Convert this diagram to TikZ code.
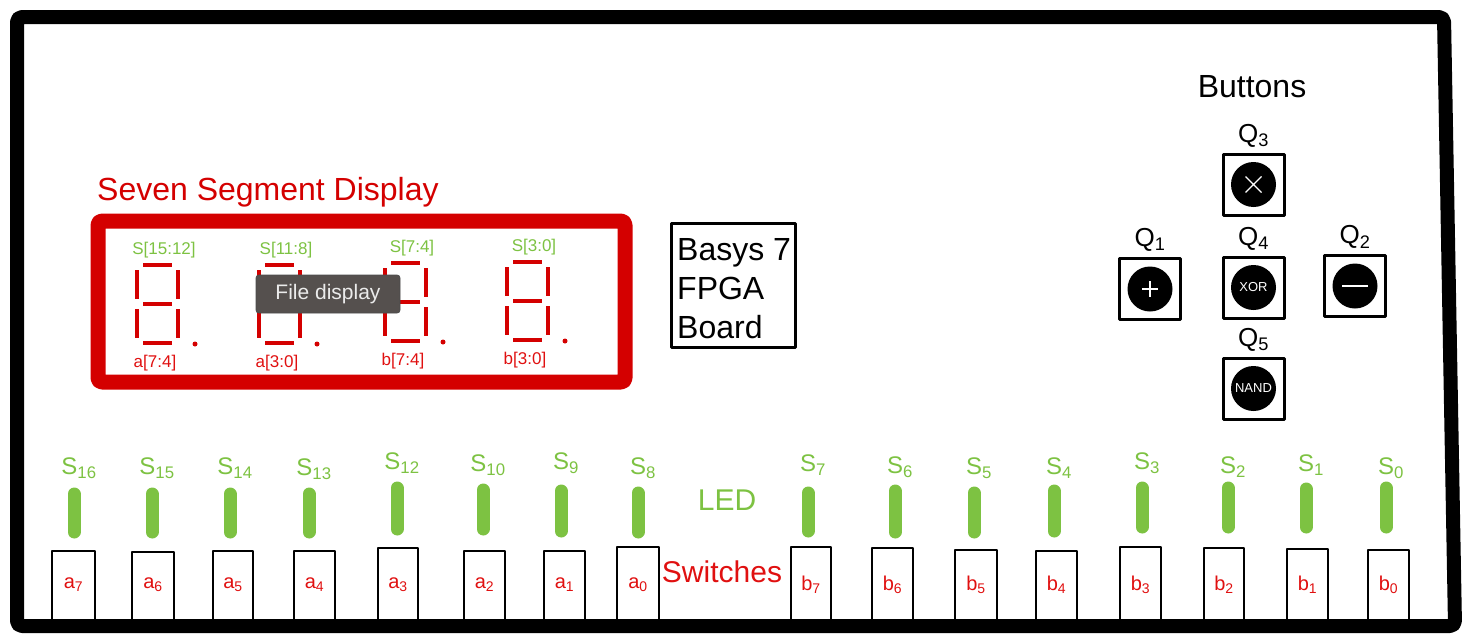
\documentclass[tikz,border=0pt]{standalone}
\usepackage{fontspec}
\setmainfont{Liberation Sans}
\usetikzlibrary{positioning}
\definecolor{segred}{HTML}{D40000}
\definecolor{handred}{HTML}{E01010}
\definecolor{ledgreen}{HTML}{7DC242}
\definecolor{tipgray}{HTML}{55504E}

\begin{document}
\begin{tikzpicture}[x=1pt, y=-1pt, line join=round,
    btnbox/.style={draw, line width=3pt, minimum size=61pt, inner sep=0pt},
    btncap/.style={circle, fill=black, minimum size=45pt, inner sep=0pt, text=white, font=\fontsize{13}{14}\selectfont},
    btnmark/.style={white, line width=1.2pt},
    qlabel/.style={font=\fontsize{26}{28}\selectfont, inner sep=1pt},
    seg/.style={segred, line width=4.5pt},
    seglabel/.style={font=\fontsize{17}{18}\selectfont, inner sep=0pt},
    ledbar/.style={ledgreen, line width=13pt, line cap=round},
    ledlabel/.style={text=ledgreen, font=\fontsize{24}{24}\selectfont, inner sep=0pt},
    swbox/.style={draw, line width=1.8pt},
    swlabel/.style={text=handred, font=\fontsize{20}{20}\selectfont, inner sep=0pt},
    bigtext/.style={font=\fontsize{32}{32}\selectfont, inner sep=0pt}]
    \useasboundingbox (0,0) rectangle (1468,640);

    % seven segment display
    \node[bigtext, text=segred, anchor=base west] (ssdtitle) at (97,200) {Seven Segment Display};
    \draw[segred, line width=15pt, rounded corners=4pt] (98,221) rectangle (625,382);
    \foreach \dx/\dy/\top/\bot in {137/265/S[15:12]/a[7:4], 259/265/S[11:8]/a[3:0], 385/263/S[7:4]/b[7:4], 507/262/S[3:0]/b[3:0]} {
        \begin{scope}[shift={(\dx,\dy)}]
            \draw[seg] (6,0) -- (35,0);
            \draw[seg] (0,5) -- (0,34);
            \draw[seg] (41,5) -- (41,34);
            \draw[seg] (6,39) -- (35,39);
            \draw[seg] (0,44) -- (0,73);
            \draw[seg] (41,44) -- (41,73);
            \draw[seg] (6,78) -- (35,78);
            \fill[segred] (58,79) circle (2.5pt);
            \node[seglabel, text=ledgreen] (top\dx) at (27,-15) {\top};
            \node[seglabel, text=handred] (bot\dx) at (18,98) {\bot};
        \end{scope}
    }
    \node[fill=tipgray, draw=gray!60!black, line width=0.8pt, rounded corners=3pt, text=white!92!black,
          font=\fontsize{21}{21}\selectfont, minimum width=144pt, minimum height=38pt] (tip) at (328,294) {File display};

    % board label
    \draw[line width=3pt] (671.5,223.5) rectangle (795.5,347.5);
    \node[bigtext, anchor=base west] (board1) at (677,260) {Basys 7};
    \node[bigtext, anchor=base west] (board2) at (677,299) {FPGA};
    \node[bigtext, anchor=base west] (board3) at (677,338) {Board};

    % buttons
    \node[bigtext] (btntitle) at (1252,87) {Buttons};
    \node[btnbox] (q3) at (1253.5,184.5) {};
    \node[btnbox] (q1) at (1150,289) {};
    \node[btnbox] (q4) at (1253.5,287.5) {};
    \node[btnbox] (q2) at (1355,286) {};
    \node[btnbox] (q5) at (1253.5,388.5) {};
    \node[qlabel, above=4pt of q3] (q3lab) {Q\textsubscript{3}};
    \node[qlabel, above=4pt of q1] (q1lab) {Q\textsubscript{1}};
    \node[qlabel, above=4pt of q4] (q4lab) {Q\textsubscript{4}};
    \node[qlabel, above=4pt of q2] (q2lab) {Q\textsubscript{2}};
    \node[qlabel, above=4pt of q5] (q5lab) {Q\textsubscript{5}};
    \node[btncap] (q3cap) at (q3) {};
    \node[btncap] (q1cap) at (q1) {};
    \node[btncap] (q4cap) at (q4) {XOR};
    \node[btncap] (q2cap) at (q2) {};
    \node[btncap] (q5cap) at (q5) {NAND};
    \draw[btnmark] (q3cap.center) +(-8,-8) -- +(8,8) +(-8,8) -- +(8,-8);
    \draw[btnmark] (q1cap.center) +(-8,0) -- +(8,0) +(0,-8) -- +(0,8);
    \draw[btnmark] (q2cap.center) +(-13,0) -- +(13,0);

    % LEDs
    \foreach \x/\t/\b/\s/\ly [count=\i] in {74/488/538/16/468, 152/488/538/15/468, 230/488/538/14/468,
        309/488/538/13/469, 397/482/535/12/463, 483/484/535/10/465, 561/485/537/9/463, 638/487/538/8/468,
        808/487/537/7/465, 895/485/538/6/467, 974/487/538/5/468, 1054/485/537/4/468,
        1142/482/533/3/463, 1228/482/533/2/467, 1306/483/533/1/465, 1386/482/533/0/468} {
        \draw[ledbar] (\x,\t+6) -- (\x,\b-6);
        \node[ledlabel] (led\i) at (\x+5,\ly) {S\textsubscript{\s}};
    }
    \node[bigtext, text=ledgreen, font=\fontsize{30}{30}\selectfont] (ledtext) at (727,500) {LED};

    % switches
    \foreach \xa/\xb/\t/\n [count=\i] in {52/95/551/a\textsubscript{7}, 132/174/552/a\textsubscript{6},
        213/253/551/a\textsubscript{5}, 294/335/551/a\textsubscript{4}, 378/418/548/a\textsubscript{3},
        464/505/551/a\textsubscript{2}, 544/585/551/a\textsubscript{1}, 617/659/547/a\textsubscript{0},
        791/831/547/b\textsubscript{7}, 872/913/548/b\textsubscript{6}, 955/997/550/b\textsubscript{5},
        1036/1077/551/b\textsubscript{4}, 1120/1161/547/b\textsubscript{3}, 1204/1244/548/b\textsubscript{2},
        1287/1328/549/b\textsubscript{1}, 1368/1409/550/b\textsubscript{0}} {
        \draw[swbox] (\xa,626) -- (\xa,\t) -- (\xb,\t) -- (\xb,626);
        \node[swlabel] (sw\i) at ({(\xa+\xb)/2},585) {\n};
    }
    \node[bigtext, text=handred, font=\fontsize{30}{30}\selectfont] (swtext) at (722,572) {Switches};

    % board outline
    \draw[line width=14pt, rounded corners=5pt] (17,17) -- (1444,17) -- (1455,626) -- (17,626) -- cycle;
\end{tikzpicture}
\end{document}
